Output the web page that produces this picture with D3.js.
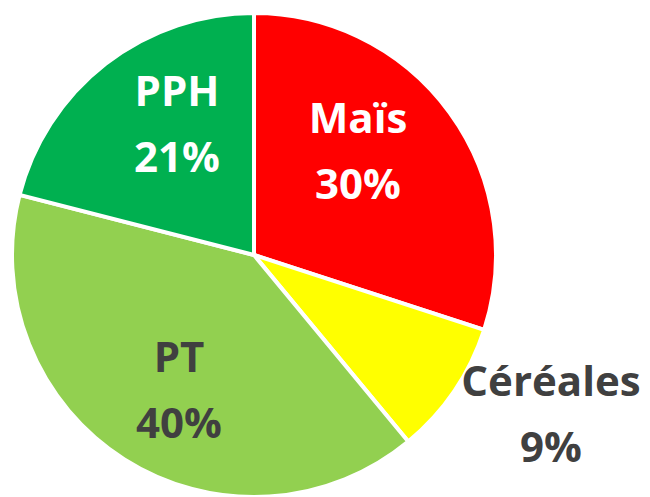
<!DOCTYPE html>
<html>
<head>
<meta charset="utf-8">
<script src="https://cdn.jsdelivr.net/npm/d3@7"></script>
<style>
  html, body { margin: 0; padding: 0; background: #fff; }
  svg { display: block; }
</style>
</head>
<body>
<svg id="chart"></svg>
<script>
// data
const categories = ["Maïs", "Céréales", "PT", "PPH"];
const values = [30, 9, 40, 21];
const colors = ["#FF0000", "#FFFF00", "#92D050", "#00B050"];
const labelColors = ["#FFFFFF", "#404040", "#404040", "#FFFFFF"];

const width = 650;
const height = 497;
const cx = 254, cy = 255, radius = 242;

// label anchors, offset from the pie centre (in px)
const labelOffsets = [[104, -89], [297, 174], [-75, 150], [-77, -116]];

const svg = d3.select("#chart")
    .attr("width", width)
    .attr("height", height);

const pie = d3.pie().sort(null).value(d => d)(values);
const arc = d3.arc().innerRadius(0).outerRadius(radius);

const g = svg.append("g").attr("transform", `translate(${cx},${cy})`);

g.selectAll("path")
    .data(pie)
    .join("path")
    .attr("d", arc)
    .attr("fill", (d, i) => colors[i])
    .attr("stroke", "#fff")
    .attr("stroke-width", 4)
    .attr("stroke-linejoin", "round");

const labels = g.selectAll("text.lbl")
    .data(pie)
    .join("text")
    .attr("class", "lbl")
    .attr("text-anchor", "middle")
    .attr("font-family", "'Open Sans', Lato, sans-serif")
    .attr("font-weight", "bold")
    .attr("font-size", 42)
    .attr("fill", (d, i) => labelColors[i])
    .attr("transform", (d, i) => `translate(${labelOffsets[i][0]},${labelOffsets[i][1]})`);

labels.append("tspan")
    .attr("x", 0)
    .attr("y", -33)
    .text((d, i) => categories[i]);

labels.append("tspan")
    .attr("x", 0)
    .attr("y", 33)
    .text(d => d.data + "%");
</script>
</body>
</html>
